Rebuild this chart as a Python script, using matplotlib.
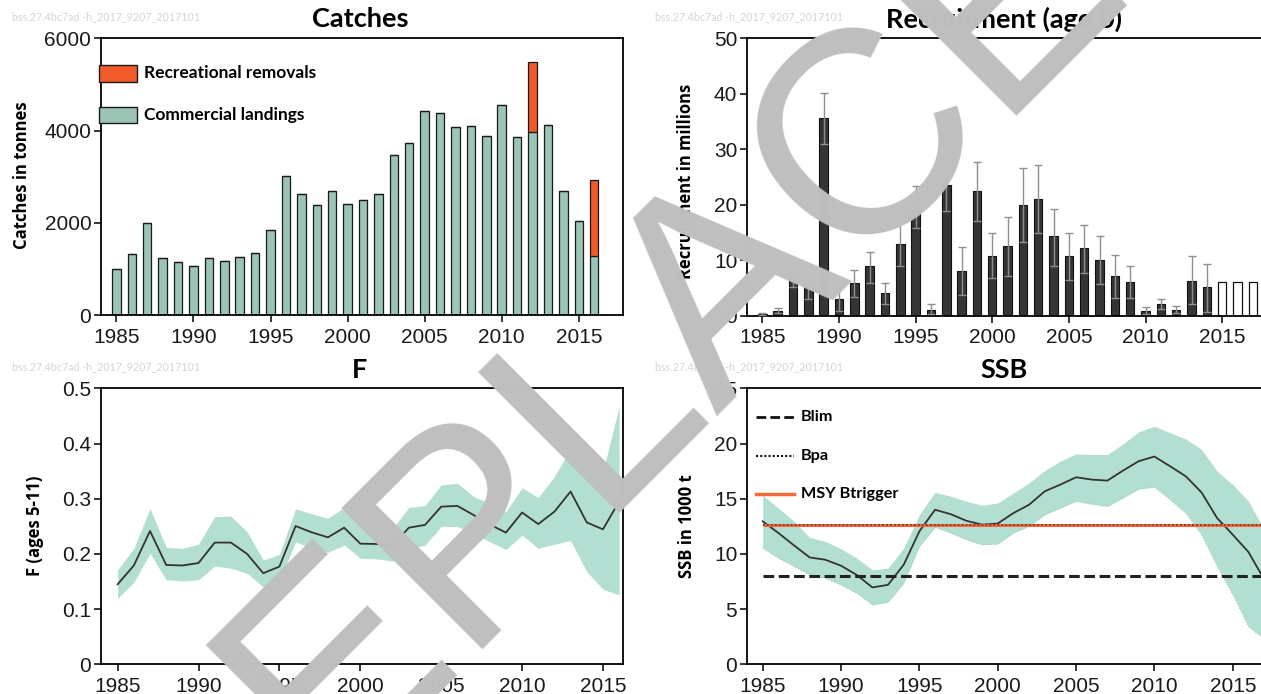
import matplotlib
matplotlib.use('Agg')
import matplotlib.pyplot as plt
import numpy as np
from matplotlib.patches import Rectangle
from matplotlib.lines import Line2D

W, H, DPI = 1261, 694, 100

# ---------------- data ----------------
catch_years = list(range(1985, 2017))
commercial = [990, 1320, 1990, 1240, 1140, 1055, 1240, 1180, 1265, 1350,
              1845, 3015, 2625, 2380, 2680, 2410, 2500, 2625, 3470, 3740,
              4430, 4370, 4070, 4100, 3890, 4555, 3870, 3975, 4130, 2680,
              2045, 1285]
recreational = [0] * 27 + [1515, 0, 0, 0, 1635]

rec_years = list(range(1985, 2015))
rec_vals = [0.3, 0.8, 7.4, 5.85, 35.7, 3.0, 5.8, 8.85, 4.0, 12.9,
            19.5, 1.0, 23.5, 8.1, 22.4, 10.8, 12.6, 19.9, 21.1, 14.4,
            10.8, 12.1, 10.1, 7.05, 6.0, 0.8, 2.0, 1.0, 6.3, 5.1]
rec_low = [0.1, 0.4, 5.2, 3.0, 30.9, 0.8, 3.4, 5.8, 2.1, 9.0,
           15.8, 0.3, 18.8, 3.7, 17.0, 6.8, 7.2, 13.3, 14.8, 8.9,
           6.4, 7.65, 5.7, 3.1, 3.1, 0.3, 1.1, 0.5, 2.0, 0.6]
rec_high = [0.5, 1.4, 9.6, 8.7, 40.2, 5.2, 8.2, 11.5, 5.9, 16.8,
            23.4, 2.0, 28.2, 12.3, 27.6, 14.8, 17.8, 26.6, 27.1, 19.3,
            14.8, 16.3, 14.3, 11.0, 9.0, 1.5, 3.0, 1.7, 10.7, 9.3]
rec_proj_years = [2015, 2016, 2017]
rec_proj_vals = [6.0, 6.0, 6.0]

f_years = list(range(1985, 2017))
f_mean = [0.145, 0.179, 0.2415, 0.180, 0.179, 0.1835, 0.2205, 0.2205, 0.200, 0.165,
          0.177, 0.2505, 0.239, 0.230, 0.2475, 0.2185, 0.218, 0.2145, 0.2475, 0.2525,
          0.2855, 0.287, 0.2705, 0.2535, 0.2385, 0.275, 0.254, 0.2765, 0.313, 0.257,
          0.2445, 0.295]
f_high = [0.171, 0.210, 0.2825, 0.212, 0.210, 0.2175, 0.2675, 0.2685, 0.240, 0.189,
          0.199, 0.2815, 0.2725, 0.2645, 0.284, 0.2495, 0.2475, 0.246, 0.284, 0.2875,
          0.325, 0.328, 0.304, 0.292, 0.2765, 0.320, 0.302, 0.340, 0.391, 0.367,
          0.349, 0.467]
f_low = [0.1195, 0.1485, 0.201, 0.153, 0.151, 0.153, 0.178, 0.174, 0.165, 0.140,
         0.150, 0.222, 0.210, 0.203, 0.216, 0.192, 0.191, 0.187, 0.210, 0.216,
         0.2495, 0.2495, 0.237, 0.222, 0.208, 0.234, 0.210, 0.2175, 0.224, 0.168,
         0.136, 0.1255]

ssb_years = list(range(1985, 2018))
ssb = [12.95, 11.9, 10.77, 9.68, 9.47, 8.93, 8.1, 6.96, 7.2, 9.02,
       12.04, 14.0, 13.6, 13.0, 12.65, 12.75, 13.7, 14.45, 15.67, 16.28,
       16.94, 16.73, 16.64, 17.55, 18.4, 18.82, 17.94, 17.03, 15.58, 13.25,
       11.74, 10.17, 7.7]
ssb_high = [15.3, 14.16, 12.95, 11.5, 11.13, 10.47, 9.62, 8.56, 8.71, 10.53,
            13.55, 15.58, 15.22, 14.77, 14.4, 14.61, 15.52, 16.43, 17.55, 18.4,
            19.06, 19.0, 19.0, 19.97, 21.06, 21.57, 20.97, 20.42, 19.46, 17.49,
            16.28, 14.77, 12.2]
ssb_low = [10.53, 9.62, 8.87, 8.1, 7.8, 7.2, 6.44, 5.39, 5.63, 7.35,
           10.68, 12.4, 11.9, 11.29, 10.83, 10.9, 11.9, 12.5, 13.55, 14.16,
           14.77, 14.52, 14.31, 15.07, 15.89, 16.04, 14.92, 13.7, 11.74, 8.87,
           6.29, 3.42, 2.3]
blim = 8.0
bpa = 12.6
msy_btrigger = 12.6

# ---------------- style ----------------
TICK_FONT = ['Liberation Sans Narrow', 'Liberation Sans', 'DejaVu Sans']
TITLE_FONT = ['Lato', 'DejaVu Sans']
YLAB_FONT = ['Open Sans', 'Lato', 'DejaVu Sans']
GREEN_BAR = '#9cc4b4'
ORANGE = '#f05a28'
BAND = '#b3dfd2'
LINE = '#333333'


def fx(x):
    return x / W


def fy(y):
    return 1 - y / H


def rect(l, t, r, b):
    return [fx(l), fy(b), (r - l) / W, (b - t) / H]


fig = plt.figure(figsize=(W / DPI, H / DPI), dpi=DPI)


def style_axes(ax):
    for s in ax.spines.values():
        s.set_linewidth(1.3)
        s.set_color('black')
    ax.tick_params(direction='out', length=5, width=1.1, labelsize=15,
                   pad=2, colors='black', labelcolor='#1a1a1a')
    ax.tick_params(axis='x', pad=4)
    for lab in ax.get_xticklabels() + ax.get_yticklabels():
        lab.set_family(TICK_FONT)


xt = [1985, 1990, 1995, 2000, 2005, 2010, 2015]

# ---- Catches ----
ax1 = fig.add_axes(rect(101, 38.3, 623, 315))
ax1.bar(catch_years, commercial, width=0.55, color=GREEN_BAR,
        edgecolor='#1a1a1a', linewidth=0.9)
ax1.bar(catch_years, recreational, width=0.55, bottom=commercial,
        color=ORANGE, edgecolor='#1a1a1a', linewidth=0.9)
ax1.set_xlim(1984.0, 2017.87)
ax1.set_ylim(0, 6000)
ax1.set_xticks(xt)
ax1.set_yticks([0, 2000, 4000, 6000])
style_axes(ax1)

# ---- Recruitment ----
ax2 = fig.add_axes(rect(747, 38.3, 747 + 35 * 15.33, 315.5))
rv = np.array(rec_vals)
ax2.bar(rec_years, rec_vals, width=0.55, color='#353535',
        edgecolor='#111111', linewidth=0.8, zorder=2)
ax2.errorbar(rec_years, rec_vals,
             yerr=[rv - np.array(rec_low), np.array(rec_high) - rv],
             fmt='none', ecolor='#8f8f8f', elinewidth=1.0, capsize=3,
             capthick=1.0, zorder=3)
ax2.bar(rec_proj_years, rec_proj_vals, width=0.55, facecolor='white',
        edgecolor='#111111', linewidth=0.9, zorder=2)
ax2.set_xlim(1984.0, 2019)
ax2.set_ylim(0, 50)
ax2.set_xticks(xt)
ax2.set_yticks([0, 10, 20, 30, 40, 50])
style_axes(ax2)

# ---- F ----
ax3 = fig.add_axes(rect(101, 388.3, 623, 664.3))
ax3.fill_between(f_years, f_low, f_high, color=BAND, linewidth=0)
ax3.plot(f_years, f_mean, color=LINE, linewidth=1.3)
ax3.set_xlim(1983.97, 2016.24)
ax3.set_ylim(0, 0.5)
ax3.set_xticks(xt)
ax3.set_yticks([0, 0.1, 0.2, 0.3, 0.4, 0.5])
ax3.set_yticklabels(['0', '0.1', '0.2', '0.3', '0.4', '0.5'])
style_axes(ax3)

# ---- SSB ----
ax4 = fig.add_axes(rect(747, 388.3, 747 + 35 * 15.67, 664.3))
ax4.fill_between(ssb_years, ssb_low, ssb_high, color=BAND, linewidth=0)
ax4.plot(ssb_years, ssb_low, color='#9fd2c2', linewidth=0.8, linestyle=':')
ax4.plot(ssb_years, ssb, color=LINE, linewidth=1.3)
ax4.plot([1985, 2019], [blim, blim], color='#222222', linewidth=2.2,
         linestyle=(0, (3.5, 1.5)))
ax4.plot([1985, 2019], [msy_btrigger, msy_btrigger], color='#f26a3a',
         linewidth=2.2, solid_capstyle='butt')
ax4.plot([1985, 2019], [bpa, bpa], color='#7a3a2a', linewidth=1.3,
         linestyle=(0, (1, 1.2)))
ax4.set_xlim(1984.0, 2019)
ax4.set_ylim(0, 25)
ax4.set_xticks(xt)
ax4.set_yticks([0, 5, 10, 15, 20, 25])
style_axes(ax4)

# ---- titles ----
tkw = dict(family=TITLE_FONT, weight='bold', ha='center', va='center',
           color='black', fontsize=19.5)
fig.text(fx(360), fy(19), 'Catches', **tkw)
fig.text(fx(1004), fy(19), 'Recruitment (age 0)', **tkw)
fig.text(fx(359), fy(370), 'F', **tkw)
fig.text(fx(1004), fy(370), 'SSB', **tkw)

# ---- y labels ----
lkw = dict(family=YLAB_FONT, weight='bold', ha='center', va='center',
           rotation=90, fontsize=12, color='black')
fig.text(fx(22), fy(175), 'Catches in tonnes', **lkw)
fig.text(fx(686), fy(181), 'Recruitment in millions', **lkw)
fig.text(fx(35), fy(526), 'F (ages 5-11)', **lkw)
fig.text(fx(687), fy(526), 'SSB in 1000 t', **lkw)

# ---- header stamps ----
stamp = 'bss.27.4bc7ad -h_2017_9207_2017101'
for (x, y) in [(12, 17), (655, 17), (12, 367), (655, 367)]:
    fig.text(fx(x), fy(y), stamp, fontsize=7.7, color='#d4d4d4',
             family=TITLE_FONT, ha='left', va='center')

# ---- catches legend ----
fig.add_artist(Rectangle((fx(99), fy(82)), (137 - 99) / W, (82 - 65) / H,
                         transform=fig.transFigure, facecolor=ORANGE,
                         edgecolor='#1a1a1a', linewidth=1.0))
fig.add_artist(Rectangle((fx(99), fy(123)), (137 - 99) / W, (123 - 107) / H,
                         transform=fig.transFigure, facecolor=GREEN_BAR,
                         edgecolor='#1a1a1a', linewidth=1.0))
gkw = dict(family=TITLE_FONT, weight='bold', ha='left', va='center',
           fontsize=12.5, color='black')
fig.text(fx(144), fy(73), 'Recreational removals', **gkw)
fig.text(fx(144), fy(115), 'Commercial landings', **gkw)

# ---- SSB legend ----
fig.add_artist(Line2D([fx(756), fx(794)], [fy(417)] * 2,
                      transform=fig.transFigure, color='#111111',
                      linewidth=2.0, linestyle=(0, (3.5, 1.5))))
fig.add_artist(Line2D([fx(756), fx(794)], [fy(456)] * 2,
                      transform=fig.transFigure, color='#111111',
                      linewidth=1.5, linestyle=(0, (1, 1))))
fig.add_artist(Line2D([fx(756), fx(794)], [fy(494)] * 2,
                      transform=fig.transFigure, color='#f26a3a',
                      linewidth=2.5))
skw = dict(family=TITLE_FONT, weight='bold', ha='left', va='center',
           fontsize=11.7, color='black')
fig.text(fx(801), fy(417), 'Blim', **skw)
fig.text(fx(801), fy(456), 'Bpa', **skw)
fig.text(fx(801), fy(494), 'MSY Btrigger', **skw)

# ---- watermark ----
fig.text(fx(600), fy(403), 'REPLACE', rotation=45, rotation_mode='anchor',
         ha='center', va='center', fontsize=208, color='#bfbfbf',
         family=['Liberation Sans', 'DejaVu Sans'], zorder=1000)

fig.savefig('out.png', dpi=DPI)
